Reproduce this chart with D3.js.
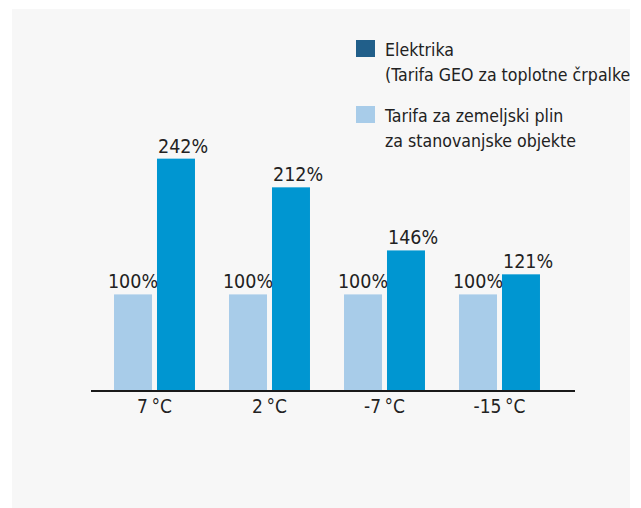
<!DOCTYPE html>
<html>
<head>
<meta charset="utf-8">
<script src="https://cdn.jsdelivr.net/npm/d3@7"></script>
<style>
  body { margin: 0; background: #fff; }
  text { font-family: "DejaVu Sans Condensed", "DejaVu Sans", sans-serif; font-stretch: condensed; fill: #222; }
</style>
</head>
<body>
<div id="chart"></div>
<script>
const temps = ["7\u2009°C", "2\u2009°C", "-7\u2009°C", "-15\u2009°C"];
const seriesKeys = ["plin", "elektrika"];
const plinValues = [100, 100, 100, 100];
const elektrikaValues = [242, 212, 146, 121];
const legendLabels = [
    ["Elektrika", "(Tarifa GEO za toplotne črpalke)"],
    ["Tarifa za zemeljski plin", "za stanovanjske objekte"]
];

const width = 641, height = 508;
const colors = { plin: "#a8cce9", elektrika: "#0096d1" };
const legendColors = ["#215f8a", "#a8cce9"];

const svg = d3.select("#chart").append("svg")
    .attr("width", width)
    .attr("height", height);

// grey panel, text spilling out on the right gets cut
svg.append("clipPath").attr("id", "panelClip")
    .append("rect").attr("x", 12).attr("y", 9).attr("width", 618).attr("height", 499);

svg.append("rect")
    .attr("x", 12).attr("y", 9)
    .attr("width", 618).attr("height", 499)
    .attr("fill", "#f7f7f7");

const g = svg.append("g").attr("clip-path", "url(#panelClip)");

const data = temps.map((t, i) => ({ temp: t, plin: plinValues[i], elektrika: elektrikaValues[i] }));

const x0 = d3.scaleBand()
    .domain(temps)
    .range([97, 557])
    .paddingInner(0.296)
    .paddingOuter(0.148);

const x1 = d3.scaleBand()
    .domain(seriesKeys)
    .range([0, x0.bandwidth()])
    .paddingInner(0.116);

const y = d3.scaleLinear()
    .domain([0, 250])
    .range([390, 151]);

const groups = g.selectAll(".group")
    .data(data)
    .enter()
    .append("g")
    .attr("class", "group")
    .attr("transform", d => `translate(${x0(d.temp)},0)`);

const bars = groups.selectAll(".bar")
    .data(d => seriesKeys.map(k => ({ key: k, value: d[k] })))
    .enter();

bars.append("rect")
    .attr("class", "bar")
    .attr("x", d => x1(d.key))
    .attr("y", d => y(d.value))
    .attr("width", x1.bandwidth())
    .attr("height", d => y(0) - y(d.value))
    .attr("fill", d => colors[d.key]);

// gas labels sit centred, electricity labels start at the bar's left edge
bars.append("text")
    .attr("x", d => d.key === "plin" ? x1(d.key) + x1.bandwidth() / 2 : x1(d.key) + 1)
    .attr("y", d => y(d.value) - 6)
    .attr("text-anchor", d => d.key === "plin" ? "middle" : "start")
    .style("font-size", "19.5px")
    .text(d => d.value + "%");

// baseline
g.append("line")
    .attr("x1", 91).attr("x2", 575)
    .attr("y1", y(0) + 1).attr("y2", y(0) + 1)
    .attr("stroke", "#1a1a1a")
    .attr("stroke-width", 2);

// category labels
g.selectAll(".xlabel")
    .data(temps)
    .enter()
    .append("text")
    .attr("class", "xlabel")
    .attr("x", d => x0(d) + x0.bandwidth() / 2)
    .attr("y", 413)
    .attr("text-anchor", "middle")
    .style("font-size", "19px")
    .text(d => d);

// legend
const legend = g.selectAll(".legend")
    .data(legendLabels)
    .enter()
    .append("g")
    .attr("class", "legend")
    .attr("transform", (d, i) => `translate(356,${40 + i * 66})`);

legend.append("rect")
    .attr("width", 19)
    .attr("height", 17)
    .attr("fill", (d, i) => legendColors[i]);

legend.selectAll("text")
    .data(d => d)
    .enter()
    .append("text")
    .attr("x", 29)
    .attr("y", (d, i) => 16 + i * 25)
    .style("font-size", "17.6px")
    .text(d => d);
</script>
</body>
</html>
